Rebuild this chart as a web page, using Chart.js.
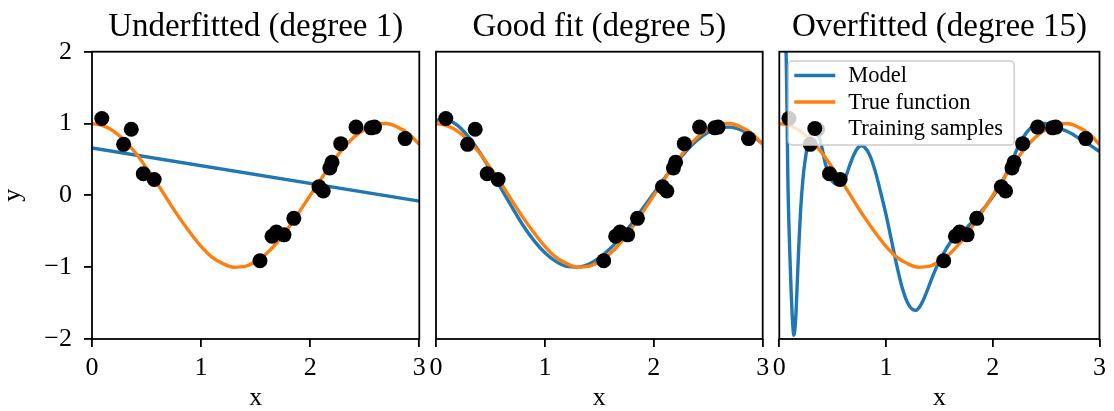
<!DOCTYPE html>
<html>
<head>
<meta charset="utf-8">
<script src="https://cdn.jsdelivr.net/npm/chart.js@4/dist/chart.umd.min.js"></script>
<style>
  body { margin: 0; background: #fff; }
  #wrap { position: relative; width: 1114px; height: 411px; }
  #wrap canvas { position: absolute; left: 0; top: 0; }
</style>
</head>
<body>
<div id="wrap">
  <canvas id="c1" width="1114" height="411"></canvas>
  <canvas id="c2" width="1114" height="411"></canvas>
  <canvas id="c3" width="1114" height="411"></canvas>
</div>
<script>
// Panel titles and tick labels
const titles = ['Underfitted (degree 1)', 'Good fit (degree 5)', 'Overfitted (degree 15)'];
const legendLabels = ['Model', 'True function', 'Training samples'];
const xTicks = [0, 1, 2, 3];
const yTicks = [-2, -1, 0, 1, 2];

// Training samples
const sampleX = [0.09, 0.29, 0.36, 0.47, 0.57, 1.54, 1.65, 1.69, 1.76, 1.85, 2.08, 2.12, 2.18, 2.20, 2.28, 2.42, 2.56, 2.59, 2.87];
const sampleY = [1.07, 0.71, 0.92, 0.30, 0.22, -0.91, -0.57, -0.51, -0.55, -0.32, 0.12, 0.06, 0.38, 0.46, 0.72, 0.95, 0.94, 0.95, 0.79];

// True function (orange)
const trueX = [0, 0.1, 0.2, 0.3, 0.4, 0.5, 0.6, 0.7, 0.8, 0.9, 1.0, 1.1, 1.2, 1.3, 1.4, 1.5,
  1.6, 1.7, 1.8, 1.9, 2.0, 2.1, 2.2, 2.3, 2.4, 2.5, 2.6, 2.7, 2.8, 2.9, 3.0];
const trueY = [1.0, 0.97, 0.89, 0.76, 0.59, 0.38, 0.16, -0.08, -0.31, -0.52, -0.71, -0.86, -0.95, -1.0, -0.99, -0.92,
  -0.81, -0.65, -0.45, -0.23, 0.0, 0.23, 0.45, 0.65, 0.81, 0.92, 0.99, 1.0, 0.95, 0.86, 0.71];

// Degree 1 model
const fit1X = [0, 3];
const fit1Y = [0.66, -0.08];

// Degree 5 model
const fit5X = [0, 0.07, 0.1, 0.2, 0.3, 0.4, 0.5, 0.6, 0.7, 0.8, 0.9, 1.0, 1.1, 1.2, 1.3, 1.4, 1.5,
  1.6, 1.7, 1.8, 1.9, 2.0, 2.1, 2.2, 2.3, 2.4, 2.5, 2.6, 2.7, 2.8, 2.9, 3.0];
const fit5Y = [1.04, 1.07, 1.06, 0.97, 0.81, 0.60, 0.35, 0.09, -0.17, -0.42, -0.63, -0.80, -0.92, -0.99, -1.0, -0.96, -0.87,
  -0.74, -0.58, -0.39, -0.18, 0.03, 0.24, 0.44, 0.62, 0.77, 0.88, 0.94, 0.95, 0.91, 0.83, 0.72];

// Degree 15 model
const fit15X = [0.03, 0.05, 0.06, 0.07, 0.08, 0.09, 0.10, 0.11, 0.12, 0.13, 0.135, 0.14, 0.15, 0.16, 0.17, 0.18, 0.19, 0.20,
  0.21, 0.22, 0.23, 0.25, 0.27, 0.29, 0.31, 0.33, 0.35, 0.37, 0.40, 0.43, 0.46, 0.50, 0.54, 0.58, 0.62, 0.66,
  0.70, 0.74, 0.77, 0.80, 0.85, 0.90, 0.95, 1.00, 1.05, 1.10, 1.15, 1.20, 1.25, 1.28, 1.32, 1.36, 1.40, 1.45,
  1.50, 1.55, 1.60, 1.65, 1.70, 1.75, 1.80, 1.85, 1.90, 1.95, 2.00, 2.05, 2.10, 2.15, 2.20, 2.25, 2.30, 2.35,
  2.40, 2.45, 2.50, 2.55, 2.60, 2.65, 2.70, 2.75, 2.80, 2.85, 2.90, 2.95, 3.00];
const fit15Y = [5.0, 3.3, 2.3, 1.45, 0.25, -0.4, -0.88, -1.3, -1.65, -1.88, -1.95, -1.93, -1.8, -1.52, -1.15, -0.8, -0.48, -0.2,
  0.02, 0.2, 0.35, 0.57, 0.74, 0.85, 0.91, 0.93, 0.9, 0.83, 0.66, 0.45, 0.3, 0.19, 0.15, 0.16, 0.25, 0.42,
  0.57, 0.67, 0.69, 0.67, 0.55, 0.33, 0.04, -0.27, -0.62, -0.97, -1.28, -1.49, -1.59, -1.60, -1.54, -1.42, -1.27, -1.08,
  -0.91, -0.78, -0.66, -0.57, -0.51, -0.46, -0.38, -0.30, -0.21, -0.12, -0.02, 0.09, 0.22, 0.38, 0.55, 0.71, 0.84, 0.93,
  0.98, 1.0, 1.0, 0.97, 0.94, 0.92, 0.89, 0.85, 0.80, 0.76, 0.71, 0.66, 0.61];

const FONT = 'Liberation Serif';
const BLUE = '#1f77b4';
const ORANGE = '#ff7f0e';

function pairs(xs, ys) {
  return xs.map((x, i) => ({ x: x, y: ys[i] }));
}

function minusLabel(v) {
  return v < 0 ? '\u2212' + Math.abs(v) : String(v);
}

// frame, title and (optionally) legend drawn on top of each panel
const panelDecor = {
  id: 'panelDecor',
  afterDraw(chart, args, opts) {
    const ctx = chart.ctx;
    const a = chart.chartArea;
    ctx.save();
    ctx.strokeStyle = '#000';
    ctx.lineWidth = 1.8;
    ctx.strokeRect(a.left, a.top, a.right - a.left, a.bottom - a.top);

    ctx.fillStyle = '#000';
    ctx.font = '33px "' + FONT + '"';
    ctx.textAlign = 'center';
    ctx.textBaseline = 'alphabetic';
    ctx.fillText(opts.title, (a.left + a.right) / 2, 36);

    if (opts.legend) {
      const bx = a.left + 9, by = 61, bw = 226, bh = 84;
      ctx.beginPath();
      ctx.roundRect(bx, by, bw, bh, 4);
      ctx.fillStyle = 'rgba(255,255,255,0.8)';
      ctx.fill();
      ctx.strokeStyle = '#cccccc';
      ctx.lineWidth = 1.5;
      ctx.stroke();

      const rows = [75.5, 102, 128.5];
      const hx0 = a.left + 15, hx1 = a.left + 56;
      ctx.lineWidth = 3.3;
      ctx.strokeStyle = BLUE;
      ctx.beginPath(); ctx.moveTo(hx0, rows[0]); ctx.lineTo(hx1, rows[0]); ctx.stroke();
      ctx.strokeStyle = ORANGE;
      ctx.beginPath(); ctx.moveTo(hx0, rows[1]); ctx.lineTo(hx1, rows[1]); ctx.stroke();
      ctx.fillStyle = '#000';
      ctx.beginPath(); ctx.arc((hx0 + hx1) / 2, rows[2], 7.5, 0, Math.PI * 2); ctx.fill();

      ctx.font = '22.5px "' + FONT + '"';
      ctx.textAlign = 'left';
      legendLabels.forEach((t, i) => ctx.fillText(t, a.left + 69, rows[i] + 6.5));
    }
    ctx.restore();
  }
};

const panels = [
  { id: 'c1', left: 0, right: 694.7, showY: true, mx: fit1X, my: fit1Y, legend: false },
  { id: 'c2', left: 436, right: 351.3, showY: false, mx: fit5X, my: fit5Y, legend: false },
  { id: 'c3', left: 779.3, right: 8.7, showY: false, mx: fit15X, my: fit15Y, legend: true }
];

panels.forEach((p, k) => {
  new Chart(document.getElementById(p.id), {
    data: {
      datasets: [
        {
          type: 'scatter',
          label: legendLabels[2],
          data: pairs(sampleX, sampleY),
          backgroundColor: '#000',
          borderWidth: 0,
          pointRadius: 7.5,
          order: 1
        },
        {
          type: 'line',
          label: legendLabels[1],
          data: pairs(trueX, trueY),
          borderColor: ORANGE,
          borderWidth: 3.4,
          pointRadius: 0,
          cubicInterpolationMode: 'monotone',
          clip: 0,
          order: 2
        },
        {
          type: 'line',
          label: legendLabels[0],
          data: pairs(p.mx, p.my),
          borderColor: BLUE,
          borderWidth: 3.4,
          pointRadius: 0,
          cubicInterpolationMode: 'monotone',
          clip: 0,
          order: 3
        }
      ]
    },
    options: {
      responsive: false,
      animation: false,
      events: [],
      layout: { padding: { left: p.left, right: p.right, top: 51.7, bottom: 0 } },
      scales: {
        x: {
          type: 'linear',
          min: 0,
          max: 3,
          afterBuildTicks: s => { s.ticks = xTicks.map(v => ({ value: v })); },
          afterFit: s => { s.height = 72; },
          ticks: {
            color: '#000',
            padding: 8,
            maxRotation: 0,
            font: { family: FONT, size: 26, lineHeight: 1 }
          },
          grid: { drawOnChartArea: false, drawTicks: true, tickLength: 8, lineWidth: 1.8, color: '#000' },
          border: { display: false },
          title: { display: true, text: 'x', color: '#000', padding: 0, font: { family: FONT, size: 26, lineHeight: 1 } }
        },
        y: {
          type: 'linear',
          display: p.showY,
          min: -2,
          max: 2,
          afterBuildTicks: s => { s.ticks = yTicks.map(v => ({ value: v })); },
          afterFit: s => { s.width = p.showY ? 92 : 0; },
          ticks: {
            color: '#000',
            padding: 12,
            callback: v => minusLabel(v),
            font: { family: FONT, size: 26, lineHeight: 1 }
          },
          grid: { drawOnChartArea: false, drawTicks: true, tickLength: 8, lineWidth: 1.8, color: '#000' },
          border: { display: false },
          title: { display: true, text: 'y', color: '#000', padding: 0, font: { family: FONT, size: 26, lineHeight: 1 } }
        }
      },
      plugins: {
        legend: { display: false },
        tooltip: { enabled: false },
        panelDecor: { title: titles[k], legend: p.legend }
      }
    },
    plugins: [panelDecor]
  });
});
</script>
</body>
</html>
